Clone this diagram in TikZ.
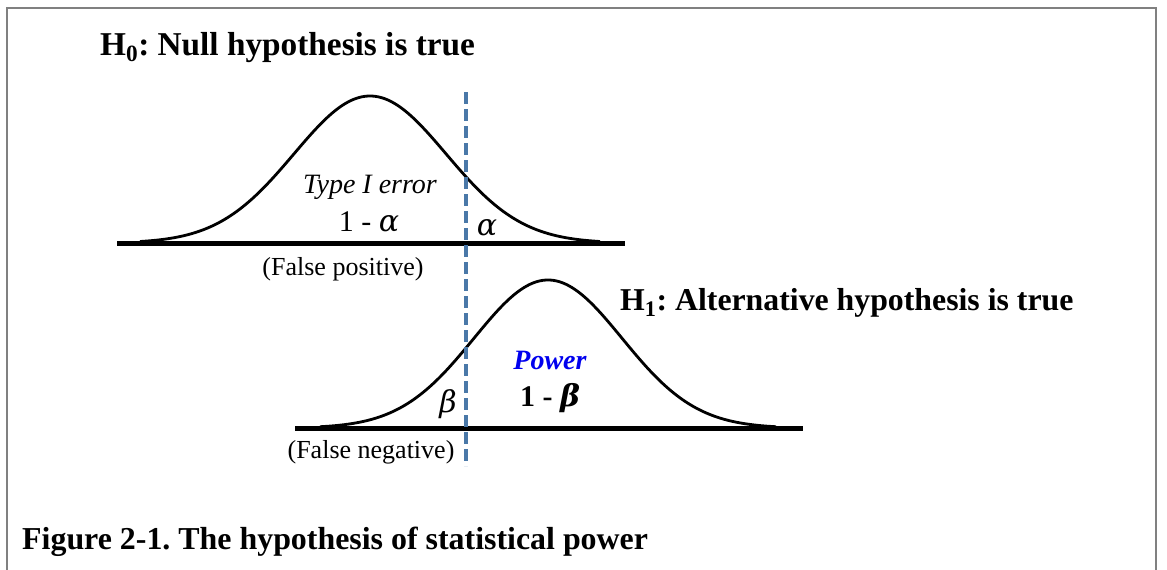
\documentclass[tikz,border=0pt]{standalone}
\usepackage{fontspec}
\setmainfont{Liberation Serif}
\newfontfamily\grk{DejaVu Serif}
\frenchspacing
\definecolor{dashblue}{HTML}{4A78A8}
\definecolor{framegray}{HTML}{808080}
\definecolor{powerblue}{HTML}{0000EE}
\begin{document}
\begin{tikzpicture}[x=1pt,y=-1pt,
  titletext/.style={inner sep=0pt,font=\fontsize{32}{38}\selectfont\bfseries},
  smalltext/.style={inner sep=0pt,font=\fontsize{26}{30}\selectfont},
  mathtext/.style={inner sep=0pt,font=\fontsize{30}{34}\selectfont},
  curve/.style={line width=2.8pt},
  axis/.style={line width=5pt},
  cutline/.style={dashblue,line width=3.5pt,dash pattern=on 12pt off 5pt}]
\useasboundingbox (0,0) rectangle (1167,570);
% frame
\draw[framegray,line width=2pt] (7,571) -- (7,8) -- (1156,8) -- (1156,571);
% axes
\coordinate (a0l) at (117,243);
\coordinate (a0r) at (625,243);
\coordinate (a1l) at (295,428);
\coordinate (a1r) at (803,428);
\draw[axis] (a0l) -- (a0r);
\draw[axis] (a1l) -- (a1r);
% curves
\draw[curve] plot[domain=140:600,samples=140,smooth] (\x,{243-147*exp(-0.5*((\x-370)/76)^2)});
\draw[curve] plot[domain=320:776,samples=140,smooth] (\x,{428-148*exp(-0.5*((\x-548)/74)^2)});
% cut line
\coordinate (ct) at (466,92);
\coordinate (cb) at (466,466);
\draw[cutline] (ct) -- (cb);
% texts
\node[titletext,font=\fontsize{33.3}{38}\selectfont\bfseries,anchor=base west] (h0) at (100,55) {H\textsubscript{0}: Null hypothesis is true};
\node[titletext,font=\fontsize{31.8}{38}\selectfont\bfseries,anchor=base west] (h1) at (620,310) {H\textsubscript{1}: Alternative hypothesis is true};
\node[titletext,font=\fontsize{31.9}{38}\selectfont\bfseries,anchor=base west] (cap) at (22,549) {Figure 2-1. The hypothesis of statistical power};
\node[inner sep=0pt,font=\fontsize{28}{32}\selectfont\itshape,anchor=base] (t1) at (370,193) {Type I error};
\node[mathtext,anchor=base] (oma) at (369,231) {1 - {\grk\itshape α}};
\node[mathtext,anchor=base] (al) at (487,235) {\grk\itshape α};
\node[smalltext,anchor=base] (fp) at (343,275) {(False positive)};
\node[inner sep=0pt,font=\fontsize{28}{32}\selectfont\bfseries\itshape,text=powerblue,anchor=base] (pw) at (550,369) {Power};
\node[mathtext,font=\fontsize{30}{34}\selectfont\bfseries,anchor=base] (omb) at (550,406) {1 - {\grk\itshape β}};
\node[mathtext,anchor=base] (be) at (448,412) {\grk\itshape β};
\node[smalltext,anchor=base] (fn) at (371,458) {(False negative)};
\end{tikzpicture}
\end{document}
